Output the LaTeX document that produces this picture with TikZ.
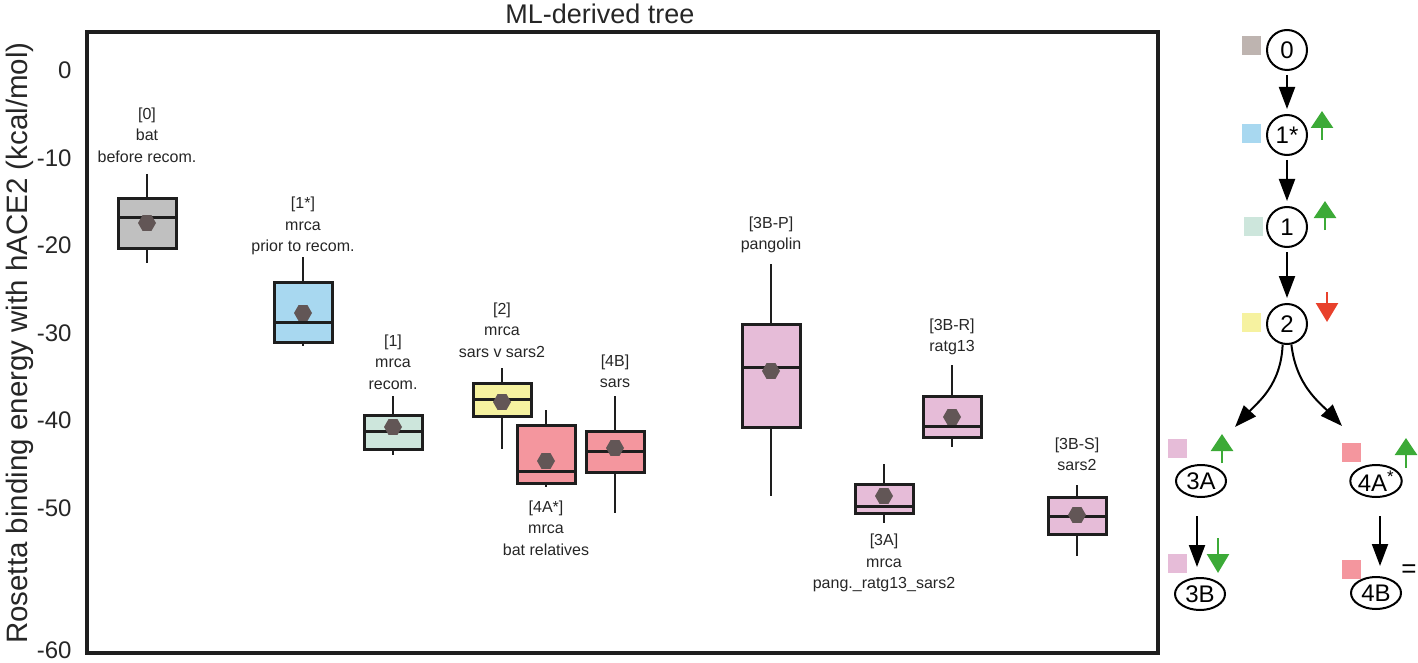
\documentclass[tikz,border=0pt]{standalone}
\usepackage{fontspec}
\setmainfont{Liberation Sans}
\usetikzlibrary{arrows.meta,shapes.geometric}
\definecolor{cgray}{RGB}{192,192,192}
\definecolor{cblue}{RGB}{168,216,240}
\definecolor{cgreen}{RGB}{205,230,220}
\definecolor{cyellow}{RGB}{246,242,160}
\definecolor{cred}{RGB}{244,150,158}
\definecolor{cpink}{RGB}{230,188,216}
\definecolor{csqzero}{RGB}{190,180,176}
\definecolor{cmean}{RGB}{98,86,86}
\definecolor{garrow}{RGB}{60,170,55}
\definecolor{rarrow}{RGB}{232,65,44}
\definecolor{edgec}{RGB}{30,30,30}
\newcommand{\bxp}[9]{%
  \draw[whisk] (#2,#3) -- (#2,#4) (#2,#6) -- (#2,#7);
  \draw[boxst, fill=#9] (#2-29,#4) rectangle (#2+29,#6);
  \draw[boxst] (#2-29,#5) -- (#2+29,#5);
  \node[hexm] (#1) at (#2,#8) {};
}
\begin{document}
\begin{tikzpicture}[x=1pt,y=-1pt,
  frame/.style={draw=edgec, line width=4pt},
  whisk/.style={draw=edgec, line width=2.5pt},
  boxst/.style={draw=edgec, line width=3pt},
  hexm/.style={regular polygon, regular polygon sides=6, fill=cmean, minimum size=18pt, inner sep=0pt},
  lbl/.style={align=center, font=\fontsize{16}{21.5}\selectfont, text=black!85},
  tick/.style={anchor=east, font=\fontsize{24}{28}\selectfont, text=black!85},
  tcirc/.style={circle, draw=black, line width=2pt, minimum size=40pt, inner sep=0pt, font=\fontsize{24}{28}\selectfont},
  tell/.style={ellipse, draw=black, line width=2pt, minimum width=50pt, minimum height=32pt, inner sep=0pt, font=\fontsize{24}{28}\selectfont},
  tarr/.style={draw=black, line width=2pt, -{Triangle[length=22pt,width=16pt]}},
  sq/.style={rectangle, minimum size=19pt, inner sep=0pt},
  uparr/.style={draw=garrow, line width=2.5pt, -{Triangle[length=17pt,width=22pt]}},
  dnarr/.style={line width=2.5pt, -{Triangle[length=19pt,width=22pt]}},
]
\useasboundingbox (0,0) rectangle (1418,663);

% title and axis
\node[font=\fontsize{27}{32}\selectfont, text=black!85] (title) at (600,14) {ML-derived tree};
\node[rotate=90, font=\fontsize{29.5}{34}\selectfont, text=black!85] (ylab) at (20,343) {Rosetta binding energy with hACE2 (kcal/mol)};
\node[tick] (y0) at (75,70) {0};
\node[tick] (y10) at (75,158) {-10};
\node[tick] (y20) at (75,245) {-20};
\node[tick] (y30) at (75,333) {-30};
\node[tick] (y40) at (75,420) {-40};
\node[tick] (y50) at (75,508) {-50};
\node[tick] (y60) at (75,650) {-60};
\draw[frame] (87,32) rectangle (1158,653);

% box plots: name, cx, whisker top, box top, median, box bottom, whisker bottom, mean, colour
\bxp{m0}{147}{174}{199}{217.5}{248}{262.5}{223}{cgray}
\bxp{m1s}{303}{257}{282}{322}{342}{346}{313}{cblue}
\bxp{m1}{393}{396}{415}{431}{449}{455}{427}{cgreen}
\bxp{m2}{502}{368}{383}{399}{416}{449}{402}{cyellow}
\bxp{m4A}{546}{410}{425}{471}{483}{487}{461}{cred}
\bxp{m4B}{615}{396}{431}{451}{472}{513}{448}{cred}
\bxp{m3BP}{771}{264}{324}{367}{427}{496}{371}{cpink}
\bxp{m3A}{884}{464}{484}{506}{513}{523}{496}{cpink}
\bxp{m3BR}{952}{365}{396}{426}{437}{447}{417}{cpink}
\bxp{m3BS}{1077}{485}{497}{516}{534}{556}{515}{cpink}

% labels
\node[lbl] (l0) at (147,135) {[0]\\bat\\before recom.};
\node[lbl] (l1s) at (303,226) {[1*]\\mrca\\prior to recom.};
\node[lbl] (l1) at (393,362) {[1]\\mrca\\recom.};
\node[lbl] (l2) at (502,330) {[2]\\mrca\\sars v sars2};
\node[lbl] (l4A) at (546,528) {[4A*]\\mrca\\bat relatives};
\node[lbl] (l4B) at (615,371.5) {[4B]\\sars};
\node[lbl] (l3BP) at (771,235) {[3B-P]\\pangolin};
\node[lbl] (l3A) at (884,563) {[3A]\\mrca\\pang.\_ratg13\_sars2};
\node[lbl] (l3BR) at (952,337) {[3B-R]\\ratg13};
\node[lbl] (l3BS) at (1077,454.5) {[3B-S]\\sars2};

% tree
\node[tcirc] (t0) at (1287,50) {0};
\node[tcirc] (t1s) at (1287,135) {1*};
\node[tcirc] (t1) at (1287,227) {1};
\node[tcirc] (t2) at (1287,324) {2};
\node[tell] (t3A) at (1201,481) {3A};
\node[tell] (t4A) at (1376,481) {4A\textsuperscript{*}};
\node[tell] (t3B) at (1200,594) {3B};
\node[tell] (t4B) at (1376,593) {4B};
\node[font=\fontsize{26}{30}\selectfont] (eq) at (1409,571) {=};

\node[sq, fill=csqzero] (s0) at (1251,46) {};
\node[sq, fill=cblue] (s1s) at (1251,134) {};
\node[sq, fill=cgreen] (s1) at (1253,226) {};
\node[sq, fill=cyellow] (s2) at (1251,322) {};
\node[sq, fill=cpink] (s3A) at (1177,448) {};
\node[sq, fill=cpink] (s3B) at (1177,563) {};
\node[sq, fill=cred] (s4A) at (1351,452) {};
\node[sq, fill=cred] (s4B) at (1351,569) {};

\draw[tarr, shorten <=4pt, shorten >=5pt] (t0) -- (t1s);
\draw[tarr, shorten <=4pt, shorten >=5pt] (t1s) -- (t1);
\draw[tarr, shorten <=4pt, shorten >=5pt] (t1) -- (t2);
\draw[tarr, shorten <=18pt, shorten >=10pt] ([xshift=-4pt]t3A.south) -- ([xshift=-4pt]t3A.south |- t3B.north);
\draw[tarr, shorten <=18pt, shorten >=10pt] ([xshift=4pt]t4A.south) -- ([xshift=4pt]t4A.south |- t4B.north);
\coordinate (c3A) at (1235,427);
\coordinate (c4A) at (1342,426);
\draw[tarr] (t2.258) .. controls (1281,385) and (1258,402) .. (c3A);
\draw[tarr] (t2.282) .. controls (1296,385) and (1319,402) .. (c4A);

% change indicators
\draw[uparr] (1322,140) -- (1322,111);
\draw[uparr] (1325,230) -- (1325,201);
\draw[dnarr, draw=rarrow, -{Triangle[length=19pt,width=22pt]}] (1327,292) -- (1327,322);
\draw[uparr] (1222,463) -- (1222,434);
\draw[uparr] (1406,468) -- (1406,438);
\draw[dnarr, draw=garrow, -{Triangle[length=19pt,width=22pt]}] (1218,538) -- (1218,573);
\end{tikzpicture}
\end{document}
